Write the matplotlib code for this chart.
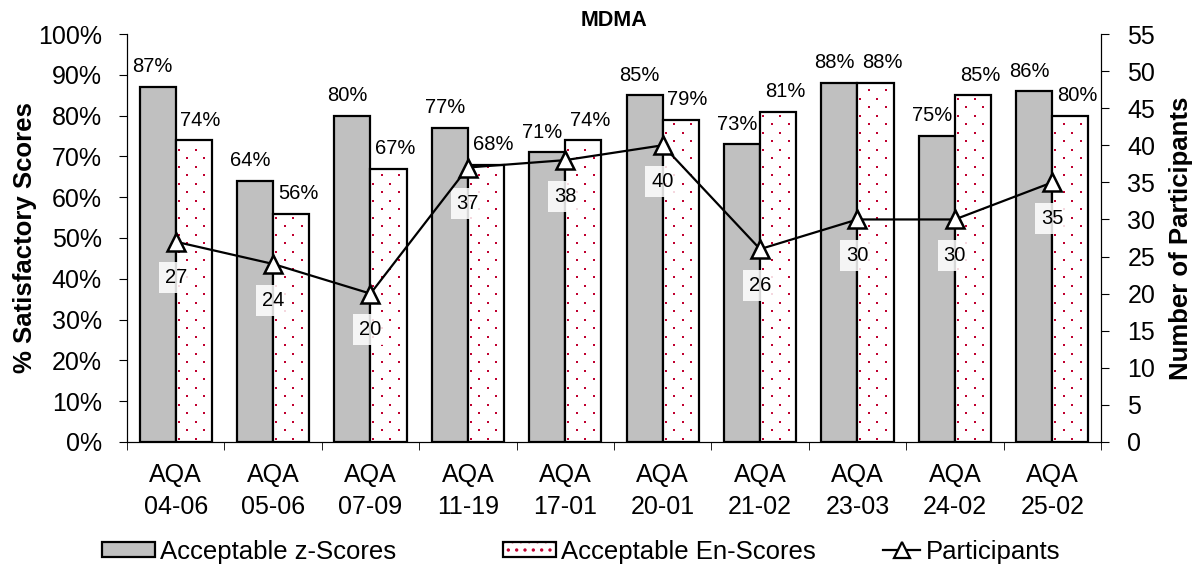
import matplotlib.pyplot as plt
import numpy as np
from matplotlib.patches import Patch
from matplotlib.lines import Line2D
from matplotlib.legend_handler import HandlerTuple

plt.rcParams['font.family'] = ['Liberation Sans', 'DejaVu Sans']
plt.rcParams['hatch.color'] = '#C00030'
plt.rcParams['hatch.linewidth'] = 1.2

# data
rounds = ['AQA\n04-06', 'AQA\n05-06', 'AQA\n07-09', 'AQA\n11-19', 'AQA\n17-01',
          'AQA\n20-01', 'AQA\n21-02', 'AQA\n23-03', 'AQA\n24-02', 'AQA\n25-02']
z_scores = [87, 64, 80, 77, 71, 85, 73, 88, 75, 86]
en_scores = [74, 56, 67, 68, 74, 79, 81, 88, 85, 80]
participants = [27, 24, 20, 37, 38, 40, 26, 30, 30, 35]

DOT = '#C00030'
x = np.arange(len(rounds))
w = 0.37

fig = plt.figure(figsize=(11.98, 5.67), dpi=100)
ax = fig.add_axes([0.106, 0.2205, 0.813, 0.7195])
ax.set_xlim(-0.5, len(rounds) - 0.5)
ax.set_ylim(0, 1)

z = np.array(z_scores) / 100
en = np.array(en_scores) / 100

ax.bar(x - w / 2, z, w, color='#C0C0C0', edgecolor='black', linewidth=1.6, zorder=2)
en_bars = ax.bar(x + w / 2, en, w, color='white', edgecolor='black', linewidth=1.6, zorder=2)

# dotted fill texture for the En bars (staggered red dots, ~17px x 8.5px grid)
px_x = 10 / (0.813 * 1198)
px_y = 1 / (0.7195 * 567)
for bar in en_bars:
    x0 = bar.get_x()
    top = bar.get_height()
    rows = np.arange(3 * px_y, top - 2 * px_y, 8.5 * px_y)
    dx, dy = [], []
    for i, ry in enumerate(rows):
        start = x0 + (3 if i % 2 == 0 else 11.5) * px_x
        cols = np.arange(start, x0 + w - 2 * px_x, 17 * px_x)
        dx.extend(cols)
        dy.extend([ry] * len(cols))
    ax.scatter(dx, dy, s=2.8, marker='s', color=DOT, linewidths=0, zorder=2.5)

for xi, v in zip(x, z):
    ax.annotate(f'{v*100:.0f}%', (xi - w / 2, v), xytext=(-3.6, 10.5), textcoords='offset points',
                ha='center', va='baseline', fontsize=14.5)
for xi, v in zip(x, en):
    ax.annotate(f'{v*100:.0f}%', (xi + w / 2, v), xytext=(5, 10.5), textcoords='offset points',
                ha='center', va='baseline', fontsize=14.5)

ax.set_yticks(np.arange(0, 1.01, 0.1))
ax.set_yticklabels([f'{int(round(t*100))}%' for t in np.arange(0, 1.01, 0.1)])
ax.set_xticks(x)
ax.set_xticklabels(rounds, linespacing=1.42)
ax.set_xticks(np.arange(-0.5, len(rounds), 1), minor=True)
ax.tick_params(axis='x', which='major', length=0, labelsize=18, pad=15)
ax.tick_params(axis='x', which='minor', length=6, direction='out')
ax.tick_params(axis='y', length=6, direction='out', labelsize=18, pad=12)
ax.spines['top'].set_visible(False)
ax.set_ylabel('% Satisfactory Scores', fontsize=18.5, fontweight='bold', labelpad=0.5)
ax.set_title('MDMA', fontsize=15.5, fontweight='bold', pad=6)

ax2 = ax.twinx()
ax2.plot(x, participants, color='black', linewidth=1.6, marker='^', markersize=13.5,
         markerfacecolor='white', markeredgecolor='black', markeredgewidth=1.8, zorder=4)
for xi, p in zip(x, participants):
    ax2.annotate(str(p), (xi, p), xytext=(0, -26), textcoords='offset points',
                 ha='center', va='center', fontsize=14.5,
                 bbox=dict(boxstyle='square,pad=0.3', facecolor='white', edgecolor='none', alpha=0.85))
ax2.set_ylim(0, 55)
ax2.set_yticks(np.arange(0, 56, 5))
ax2.tick_params(axis='y', length=6, direction='out', labelsize=18, pad=13)
ax2.spines['top'].set_visible(False)
ax2.set_ylabel('Number of Participants', fontsize=18.5, fontweight='bold', labelpad=10)

# legend: three entries placed separately to match the spacing of the original
h_z = Patch(facecolor='#C0C0C0', edgecolor='black', linewidth=1.6)
h_en = (Patch(facecolor='white', hatch='..', linewidth=0),
        Patch(fill=False, edgecolor='black', linewidth=1.6))
h_p = Line2D([], [], color='black', linewidth=1.6, marker='^', markersize=11,
             markerfacecolor='white', markeredgecolor='black', markeredgewidth=1.6)
entries = [(h_z, 'Acceptable z-Scores', 102, 2.05),
           (h_en, 'Acceptable En-Scores', 503, 2.05),
           (h_p, 'Participants', 883, 1.45)]
for handle, label, left, hl in entries:
    fig.legend([handle], [label], loc='center left', bbox_to_anchor=(left / 1198, 0.027),
               frameon=False, fontsize=18.5, handlelength=hl, handleheight=0.5,
               handletextpad=0.2, borderaxespad=0, borderpad=0,
               handler_map={tuple: HandlerTuple(ndivide=1, pad=0)})

fig.savefig('out.png', dpi=100)
